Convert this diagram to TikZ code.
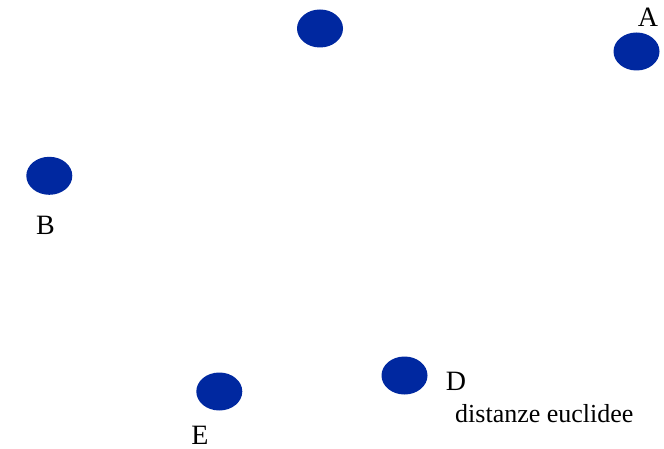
\documentclass[tikz,border=0pt]{standalone}
\usepackage{fontspec}
\setmainfont{Liberation Serif}
\usetikzlibrary{shapes.geometric}

\definecolor{ptblue}{RGB}{0,40,160}

\begin{document}
\begin{tikzpicture}
[
	point/.style={ellipse,fill=ptblue,inner sep=0pt,minimum width=46pt,minimum height=38pt},
	ptlabel/.style={anchor=base,inner sep=0pt,font=\fontsize{28}{31}\selectfont},
	note/.style={anchor=base west,inner sep=0pt,font=\fontsize{26}{29}\selectfont},
	x=1pt,y=-1pt
]

	\useasboundingbox (0,0) rectangle (664,449);

	% points
	\node[point] (top) at (320,28.5) {};
	\node[point] (a) at (636.5,51.5) {};
	\node[point] (b) at (49.3,175.8) {};
	\node[point] (d) at (404.5,375.5) {};
	\node[point] (e) at (219.3,391.5) {};

	% labels
	\node[ptlabel] (la) at (648,27) {A};
	\node[ptlabel] (lb) at (45.5,235) {B};
	\node[ptlabel] (ld) at (456,390.7) {D};
	\node[ptlabel] (le) at (200,444) {E};

	\node[note] (dist) at (455,422) {distanze euclidee};

\end{tikzpicture}
\end{document}
